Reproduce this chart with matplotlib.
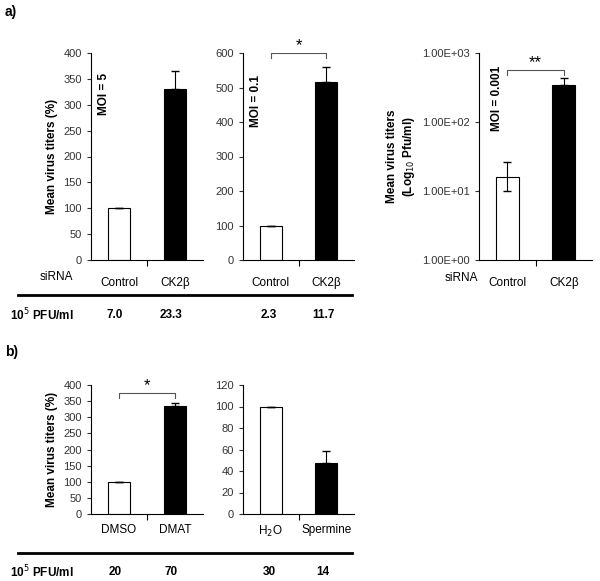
import matplotlib.pyplot as plt
from matplotlib.lines import Line2D

W, H = 600, 581
fig = plt.figure(figsize=(6, 5.81), dpi=100)
plt.rcParams['font.family'] = ['Arial', 'Liberation Sans', 'DejaVu Sans']

cats_a = ['Control', 'CK2β']
vals_a1 = [100, 330]
err_a1 = [0, 35]
vals_a2 = [100, 515]
err_a2 = [0, 45]
vals_a3 = [16, 340]
err_a3_low = [6, 0]
err_a3_high = [10, 100]
pfu_a = ['7.0', '23.3', '2.3', '11.7']

cats_b1 = ['DMSO', 'DMAT']
vals_b1 = [100, 335]
err_b1 = [0, 8]
cats_b2 = ['H$_2$O', 'Spermine']
vals_b2 = [100, 47]
err_b2 = [0, 12]
pfu_b = ['20', '70', '30', '14']


def ax_px(x0, y0, x1, y1):
    return fig.add_axes([x0 / W, 1 - y1 / H, (x1 - x0) / W, (y1 - y0) / H])


def bars(ax, vals, err, cats, ylim, ticks, log=False):
    ax.bar([0, 1], vals, width=0.4, color=['white', 'black'], edgecolor='black', linewidth=0.8,
           yerr=[[0, 0], err] if not isinstance(err, tuple) else err,
           error_kw=dict(ecolor='black', capsize=3, elinewidth=0.8))
    ax.set_xlim(-0.5, 1.5)
    if log:
        ax.set_yscale('log')
    ax.set_ylim(*ylim)
    ax.set_yticks(ticks)
    ax.minorticks_off()
    ax.spines['top'].set_visible(False)
    ax.spines['right'].set_visible(False)
    ax.set_xticks([0.5])
    ax.set_xticklabels([])
    ax.tick_params(axis='x', length=4)
    ax.tick_params(axis='y', labelsize=8, colors='#333333', length=3)
    for i, c in enumerate(cats):
        ax.text(i, -0.08, c, transform=ax.get_xaxis_transform(), ha='center', va='top', fontsize=8.5)


def bracket(ax, y, dy, star):
    ax.plot([0, 0, 1, 1], [y - dy, y, y, y - dy], color='#555555', lw=0.8)
    ax.text(0.5, y, star, ha='center', va='bottom', fontsize=12)


ax1 = ax_px(91, 53, 203, 260)
bars(ax1, vals_a1, err_a1, cats_a, (0, 400), range(0, 401, 50))
ax1.set_ylabel('Mean virus titers (%)', fontsize=8.5, fontweight='bold')
ax1.text(0.12, 0.8, 'MOI = 5', transform=ax1.transAxes, rotation=90, ha='center', va='center', fontsize=8.5, fontweight='bold')

ax2 = ax_px(243, 53, 354, 260)
bars(ax2, vals_a2, err_a2, cats_a, (0, 600), range(0, 601, 100))
bracket(ax2, 600, 15, '*')
ax2.text(0.12, 0.77, 'MOI = 0.1', transform=ax2.transAxes, rotation=90, ha='center', va='center', fontsize=8.5, fontweight='bold')

ax3 = ax_px(479, 53, 592, 260)
bars(ax3, vals_a3, (err_a3_low, err_a3_high), cats_a, (1, 1000), [1, 10, 100, 1000], log=True)
ax3.set_yticklabels(['1.00E+00', '1.00E+01', '1.00E+02', '1.00E+03'])
ax3.set_ylabel('Mean virus titers\n(Log$_{10}$ Pfu/ml)', fontsize=8.5, fontweight='bold')
bracket(ax3, 560, 0.15 * 560, '**')
ax3.text(0.16, 0.78, 'MOI = 0.001', transform=ax3.transAxes, rotation=90, ha='center', va='center', fontsize=8.5, fontweight='bold')

ax4 = ax_px(91, 385, 203, 514)
bars(ax4, vals_b1, err_b1, cats_b1, (0, 400), range(0, 401, 50))
bracket(ax4, 375, 15, '*')
ax4.set_ylabel('Mean virus titers (%)', fontsize=8.5, fontweight='bold')

ax5 = ax_px(243, 385, 354, 514)
bars(ax5, vals_b2, err_b2, cats_b2, (0, 120), range(0, 121, 20))


def ftext(x, y, s, size=8.5, **kw):
    fig.text(x / W, 1 - y / H, s, va='center', fontsize=size, **kw)


ftext(5, 12, 'a)', size=10, fontweight='bold')
ftext(5, 352, 'b)', size=10, fontweight='bold')
ftext(40, 277, 'siRNA')
ftext(445, 278, 'siRNA')
for x, s in zip([115, 171, 269, 323], pfu_a):
    ftext(x, 315, s, ha='center', fontweight='bold')
for x, s in zip([115, 171, 269, 323], pfu_b):
    ftext(x, 572, s, ha='center', fontweight='bold')
ftext(10, 315, '10$^5$ PFU/ml', fontweight='bold')
ftext(10, 572, '10$^5$ PFU/ml', fontweight='bold')
fig.add_artist(Line2D([18 / W, 352 / W], [1 - 295 / H] * 2, color='black', lw=2))
fig.add_artist(Line2D([18 / W, 352 / W], [1 - 553 / H] * 2, color='black', lw=2))

fig.savefig('out.png', dpi=100)
